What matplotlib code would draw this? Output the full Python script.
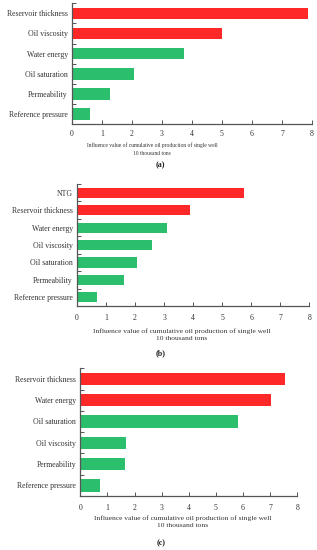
import numpy as np
import matplotlib.pyplot as plt

# dados (de cima para baixo)
params_a = ['Reservoir thickness', 'Oil viscosity', 'Water energy',
            'Oil saturation', 'Permeability', 'Reference pressure']
vals_a = [7.88, 5.0, 3.73, 2.08, 1.26, 0.6]
red_a = 2

params_b = ['NTG', 'Reservoir thickness', 'Water energy', 'Oil viscosity',
            'Oil saturation', 'Permeability', 'Reference pressure']
vals_b = [5.75, 3.88, 3.09, 2.57, 2.08, 1.63, 0.68]
red_b = 2

params_c = ['Reservoir thickness', 'Water energy', 'Oil saturation',
            'Oil viscosity', 'Permeability', 'Reference pressure']
vals_c = [7.56, 7.02, 5.8, 1.70, 1.66, 0.74]
red_c = 2

xticks = [0, 1, 2, 3, 4, 5, 6, 7, 8]
xlabel = 'Influence value of cumulative oil production of single well\n10 thousand tons'

RED = '#FF2828'
GREEN = '#2BBE6C'
AXC = '#555555'
TXT = '#333333'

plt.rcParams['font.family'] = ['Liberation Serif', 'DejaVu Serif']

fig = plt.figure(figsize=(3.17, 5.5), dpi=100)

def painel(rect, params, vals, nred, lab_x, lab_y, lab_fs, lab_ls, tick_pad, caption, cap_y):
    ax = fig.add_axes(rect)
    n = len(params)
    y = np.arange(n)[::-1]
    cores = [RED if i < nred else GREEN for i in range(n)]
    ax.barh(y, vals, height=0.58, color=cores, edgecolor='none')
    ax.set_xlim(0, 8)
    ax.set_ylim(-0.5, n - 0.5)
    ax.set_xticks(xticks)
    ax.set_yticks(y)
    ax.set_yticklabels(params)
    ax.set_yticks(np.arange(n) + 0.5, minor=True)
    for s in ['top', 'right']:
        ax.spines[s].set_visible(False)
    for s in ['left', 'bottom']:
        ax.spines[s].set_color(AXC)
        ax.spines[s].set_linewidth(0.9)
    ax.tick_params(axis='y', which='major', length=0, pad=3, labelsize=5.6, labelcolor=TXT)
    ax.tick_params(axis='y', which='minor', direction='in', length=3, width=0.7, color=AXC)
    ax.tick_params(axis='x', direction='in', length=3, width=0.7, color=AXC,
                   labelsize=5.6, labelcolor=TXT, pad=tick_pad)
    ax.set_xlabel(xlabel, fontsize=lab_fs, color=TXT, linespacing=lab_ls)
    ax.xaxis.set_label_coords(lab_x, lab_y)
    fig.text(0.507, cap_y, caption, ha='center', va='center', fontsize=5.8,
             fontweight='bold', color='#222222')
    return ax

painel([0.2271, 0.7745, 0.757, 0.2195], params_a, vals_a, red_a,
       0.333, -0.152, 4.0, 1.65, 4.5, '(a)', 1 - 165 / 550)
painel([0.2429, 0.4436, 0.7328, 0.2218], params_b, vals_b, red_b,
       0.45, -0.185, 5.4, 1.45, 6.0, '(b)', 1 - 353 / 550)
painel([0.2533, 0.0982, 0.6845, 0.2322], params_c, vals_c, red_c,
       0.47, -0.153, 5.4, 1.45, 6.0, '(c)', 1 - 542.7 / 550)

fig.savefig('out.png', dpi=100)
